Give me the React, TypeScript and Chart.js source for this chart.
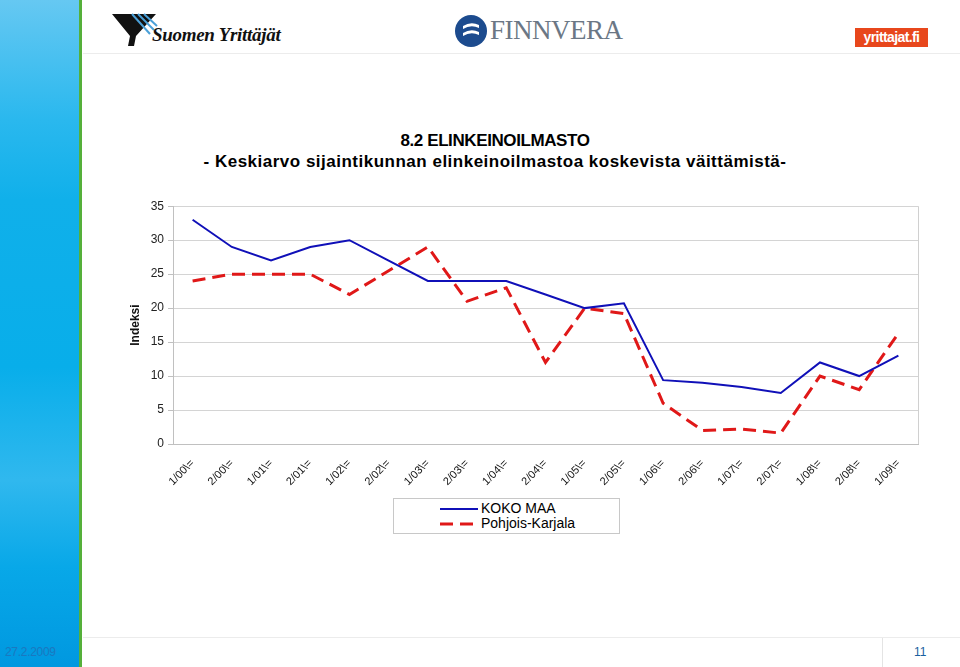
import React, { useEffect, useRef } from "react";
import { Chart, registerables } from "chart.js";

Chart.register(...registerables);

const categories = [
  "1/00\\=", "2/00\\=", "1/01\\=", "2/01\\=", "1/02\\=", "2/02\\=", "1/03\\=", "2/03\\=",
  "1/04\\=", "2/04\\=", "1/05\\=", "2/05\\=", "1/06\\=", "2/06\\=", "1/07\\=", "2/07\\=",
  "1/08\\=", "2/08\\=", "1/09\\=",
];
const kokoMaa = [33, 29, 27, 29, 30, 27, 24, 24, 24, 22, 20, 20.7, 9.4, 9, 8.4, 7.5, 12, 10, 13];
const pohjoisKarjala = [24, 25, 25, 25, 22, 25.5, 29, 21, 23, 12, 20, 19.2, 6, 2, 2.2, 1.6, 10, 8, 16.3];
const yTicks = [0, 5, 10, 15, 20, 25, 30, 35];
const seriesNames = ["KOKO MAA", "Pohjois-Karjala"];

const FONT = "'Liberation Sans', Arial, sans-serif";

const rightBorder = {
  id: "rightBorder",
  afterDraw(chart: any) {
    const { ctx, chartArea } = chart;
    ctx.save();
    ctx.strokeStyle = "#d0d0d0";
    ctx.lineWidth = 1;
    ctx.beginPath();
    ctx.moveTo(Math.round(chartArea.right) + 0.5, chartArea.top);
    ctx.lineTo(Math.round(chartArea.right) + 0.5, chartArea.bottom);
    ctx.stroke();
    ctx.restore();
  },
};

function LineChart() {
  const ref = useRef<HTMLCanvasElement>(null);
  useEffect(() => {
    if (!ref.current) return;
    const chart = new Chart(ref.current, {
      type: "line",
      data: {
        labels: categories,
        datasets: [
          {
            label: seriesNames[0],
            data: kokoMaa,
            borderColor: "#1010b8",
            borderWidth: 2,
            pointRadius: 0,
            tension: 0,
            fill: false,
          },
          {
            label: seriesNames[1],
            data: pohjoisKarjala,
            borderColor: "#e01818",
            borderWidth: 3,
            borderDash: [13, 7],
            pointRadius: 0,
            tension: 0,
            fill: false,
          },
        ],
      },
      plugins: [rightBorder],
      options: {
        animation: false,
        responsive: false,
        maintainAspectRatio: false,
        layout: { padding: { top: 11, right: 7, left: 0, bottom: 0 } },
        plugins: {
          legend: { display: false },
          tooltip: { enabled: false },
        },
        scales: {
          x: {
            offset: true,
            grid: { display: false, drawTicks: false },
            border: { display: true, color: "#c0c0c0", width: 1 },
            ticks: {
              color: "#111",
              font: { family: FONT, size: 11 },
              minRotation: 45,
              maxRotation: 45,
              autoSkip: false,
              padding: 13,
            },
            afterFit(scale: any) {
              scale.height = 51;
            },
          },
          y: {
            min: 0,
            max: 35,
            afterBuildTicks(scale: any) {
              scale.ticks = yTicks.map((v) => ({ value: v }));
            },
            grid: { color: "#d4d4d4", lineWidth: 1, tickLength: 5, tickColor: "#c0c0c0" },
            border: { display: true, color: "#c0c0c0" },
            ticks: {
              color: "#222",
              font: { family: FONT, size: 12 },
              padding: 4,
            },
            title: {
              display: true,
              text: "Indeksi",
              color: "#111",
              font: { family: FONT, size: 12, weight: "bold" },
              padding: { top: 8, bottom: 0 },
            },
            afterFit(scale: any) {
              scale.width = 53;
            },
          },
        },
      },
    });
    return () => chart.destroy();
  }, []);
  return <canvas ref={ref} width={805} height={300} style={{ position: "absolute", left: 120, top: 195, width: 805, height: 300 }} />;
}

export default function App() {
  return (
    <div style={{ position: "fixed", left: 0, top: 0, width: 960, height: 667, background: "#fff", overflow: "hidden", fontFamily: FONT }}>
      {/* left panel */}
      <div style={{ position: "absolute", left: 0, top: 0, width: 79, height: 667, background: "linear-gradient(180deg, #66c8f2 0%, #2ab8ee 18%, #10b0ea 30%, #08aeea 55%, #30b8ee 72%, #08a8e8 85%, #0098e0 100%)" }} />
      <div style={{ position: "absolute", left: 79, top: 0, width: 3, height: 667, background: "#55b03a" }} />
      <div style={{ position: "absolute", left: 5, top: 645, fontSize: 12, color: "#1a78c0", letterSpacing: -0.3 }}>27.2.2009</div>
      {/* header lines */}
      <div style={{ position: "absolute", left: 83, top: 53, width: 877, height: 1, background: "#ececec" }} />
      <div style={{ position: "absolute", left: 83, top: 637, width: 877, height: 1, background: "#ececec" }} />
      <div style={{ position: "absolute", left: 882, top: 638, width: 1, height: 29, background: "#e4e4e4" }} />
      <div style={{ position: "absolute", left: 914, top: 645, fontSize: 12, color: "#1a5fa0" }}>11</div>
      {/* logos */}
      <svg style={{ position: "absolute", left: 110, top: 12 }} width={50} height={36}>
        <polygon points="2,2 46,2 26,24 24,34 18,34 20,24" fill="#111" />
        <line x1="22" y1="2" x2="40" y2="22" stroke="#4aa0d8" strokeWidth="2" />
        <line x1="28" y1="2" x2="44" y2="18" stroke="#4aa0d8" strokeWidth="2" />
        <line x1="34" y1="2" x2="47" y2="14" stroke="#4aa0d8" strokeWidth="2" />
      </svg>
      <div style={{ position: "absolute", left: 152, top: 24, fontFamily: "'Liberation Serif', serif", fontStyle: "italic", fontWeight: "bold", fontSize: 19, color: "#111", letterSpacing: -0.3 }}>Suomen Yrittäjät</div>
      <svg style={{ position: "absolute", left: 454, top: 14 }} width={34} height={34}>
        <circle cx="17" cy="17" r="16" fill="#1c4b8e" />
        <path d="M9 12 Q17 7 25 11 L25 14 Q17 10 9 15 Z" fill="#fff" />
        <path d="M9 19 Q17 14 25 18 L25 21 Q17 17 9 22 Z" fill="#fff" />
      </svg>
      <div style={{ position: "absolute", left: 490, top: 15, fontFamily: "'Liberation Serif', serif", fontSize: 27, color: "#6b7785", letterSpacing: -0.5 }}>FINNVERA</div>
      <div style={{ position: "absolute", left: 855, top: 28, width: 73, height: 19, background: "#e8471c", color: "#fff", fontWeight: "bold", fontSize: 14, lineHeight: "19px", textAlign: "center", letterSpacing: -0.6 }}>yrittajat.fi</div>
      {/* titles */}
      <div style={{ position: "absolute", left: 150, top: 130, width: 690, textAlign: "center", fontSize: 17, fontWeight: "bold", color: "#000", lineHeight: "21px" }}>
        <div style={{ paddingLeft: 0, letterSpacing: -0.4 }}>8.2 ELINKEINOILMASTO</div>
        <div style={{ letterSpacing: 0.5 }}>- Keskiarvo sijaintikunnan elinkeinoilmastoa koskevista väittämistä-</div>
      </div>
      <LineChart />
      {/* legend */}
      <div style={{ position: "absolute", left: 393, top: 498, width: 227, height: 36, border: "1px solid #c8c8c8", boxSizing: "border-box" }}>
        <svg style={{ position: "absolute", left: 46, top: 3 }} width={40} height={28}>
          <line x1="0" y1="7" x2="38" y2="7" stroke="#1010b8" strokeWidth="2" />
          <line x1="0" y1="22" x2="38" y2="22" stroke="#e01818" strokeWidth="3" strokeDasharray="13 7" />
        </svg>
        <div style={{ position: "absolute", left: 87, top: 1, fontSize: 14, lineHeight: "16px", color: "#000" }}>{seriesNames[0]}</div>
        <div style={{ position: "absolute", left: 87, top: 16, fontSize: 14, lineHeight: "16px", color: "#000" }}>{seriesNames[1]}</div>
      </div>
    </div>
  );
}
